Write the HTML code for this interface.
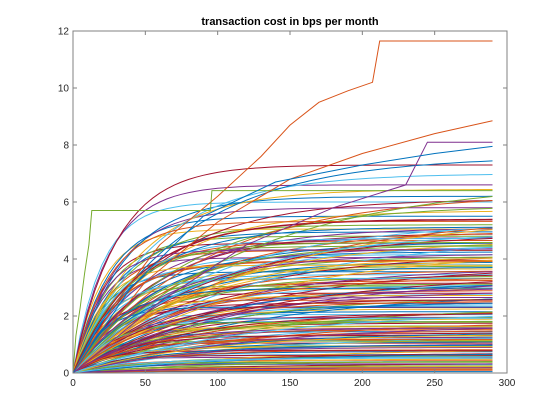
<!DOCTYPE html>
<html><head><meta charset="utf-8"><style>
body{margin:0;background:#fff;}
svg{display:block;font-family:"Liberation Sans",Arial,sans-serif;}
</style></head><body>
<svg id="chart" width="560" height="420" xmlns="http://www.w3.org/2000/svg">
<rect width="560" height="420" fill="#fff"/>
<g id="lines"></g>
<g id="axes"></g>
<text x="290" y="25" text-anchor="middle" font-size="11" font-weight="bold" fill="#000">transaction cost in bps per month</text>
</svg>
<script>
const xTicks=[0,50,100,150,200,250,300];
const yTicks=[0,2,4,6,8,10,12];
const asymptotes=[0.05,0.1,0.15,0.2,0.25,0.3,0.35,0.4,0.45,0.5,0.55,0.6,0.65,0.7,0.75,0.8,0.85,0.9,0.95,1.0,1.05,1.1,1.15,1.2,1.25,1.3,1.35,1.4,1.45,1.5,1.55,1.6,1.65,1.7,1.75,1.8,1.85,1.9,1.95,2.0,2.05,2.1,2.15,2.2,2.25,2.3,2.35,2.4,2.45,2.5,2.55,2.6,2.65,2.7,2.75,2.8,2.85,2.9,2.95,3.0,3.05,3.1,3.15,3.2,3.25,3.3,3.35,3.4,3.45,3.5,3.55,3.6,3.65,3.7,3.75,3.8,3.85,3.9,3.95,4.0,4.05,4.1,4.15,4.2,4.25,4.3,4.35,4.4,4.45,4.5,4.55,4.6,4.65,4.7,4.75,4.8,4.85,4.9,4.95,5.0,5.05,5.1,5.2,5.3,5.4,5.5,5.6,5.7,5.8,5.9,6.0,6.1,6.2,6.3,6.45,6.6,6.8,7.0,7.3,7.6,0.12,0.22,0.32,0.42,0.52,0.62,0.72,0.82,0.92,1.02,1.12,1.22,1.32,1.42,1.52,1.62,1.72,1.82,1.92,2.12,2.32,2.52,2.72,2.92,3.12,3.32,3.52,3.72,3.92,4.12,4.32,4.52,4.72,4.92,5.12,5.32,5.52,0.18,0.38,0.58,0.78,0.98,1.18,1.38,1.58,1.78,2.18,2.58,2.98,3.38,3.78,4.18,4.58,4.98,5.38];
const timeConsts=[20,60,35,90,45,25,120,55,30,75];
const specialX=[[0,30,60,100,130,150,170,190,207,212,290],[0,2,5,8,11,13,95,96,290],[0,50,100,150,200,250,290],[0,60,120,180,230,245,290],[0,40,90,140,200,250,290]];
const specialY=[[0,2.5,4.5,6.2,7.6,8.7,9.5,9.9,10.2,11.65,11.65],[0,1.3,2.3,3.5,4.5,5.7,5.7,6.4,6.4],[0,3.2,5.3,6.8,7.7,8.4,8.85],[0,2.5,4.5,5.8,6.6,8.1,8.1],[0,3,5.5,6.7,7.3,7.7,7.95]];
const colors=["#0072BD","#D95319","#EDB120","#7E2F8E","#77AC30","#4DBEEE","#A2142F"];
const L=73,R=507,T=31,B=373;
const sx=v=>L+(v-0)/(300-0)*(R-L);
const sy=v=>B-(v-0)/(12-0)*(B-T);
const NS="http://www.w3.org/2000/svg";
const g=document.getElementById('lines');
function addLine(xs,ys,color){
  const p=document.createElementNS(NS,'polyline');
  
  
  p.setAttribute('points',xs.map((x,i)=>sx(x).toFixed(1)+','+sy(ys[i]).toFixed(1)).join(' '));
  p.setAttribute('fill','none');p.setAttribute('stroke',color);p.setAttribute('stroke-width','1');
  g.appendChild(p);
}
asymptotes.forEach((a,i)=>{
  const tau=timeConsts[i%timeConsts.length];
  const xs=[],ys=[];
  for(let x=0;x<=290;x+=5){xs.push(x);ys.push(a*(1-Math.exp(-x/tau)));}
  addLine(xs,ys,colors[i%colors.length]);
});
specialX.forEach((xs,i)=>addLine(xs,specialY[i],[colors[1],colors[4],colors[1],colors[3],colors[0]][i]));
const ax=document.getElementById('axes');
function el(tag,attrs,name,txt){const e=document.createElementNS(NS,tag);for(const k in attrs)e.setAttribute(k,attrs[k]);
  
  
  if(txt!==undefined)e.textContent=txt;ax.appendChild(e);return e;}
el('rect',{x:L,y:T,width:R-L,height:B-T,fill:'none',stroke:'#808080','stroke-width':1},'plot-frame');
xTicks.forEach(t=>{const x=sx(t);
  el('line',{x1:x,y1:B,x2:x,y2:B-4,stroke:'#808080'},'x-tick');
  el('line',{x1:x,y1:T,x2:x,y2:T+4,stroke:'#808080'},'x-tick-top');
  el('text',{x:x,y:B+13,'text-anchor':'middle','font-size':10,fill:'#262626'},'x-tick-label',t);});
yTicks.forEach(t=>{const y=sy(t);
  el('line',{x1:L,y1:y,x2:L+4,y2:y,stroke:'#808080'},'y-tick');
  el('line',{x1:R,y1:y,x2:R-4,y2:y,stroke:'#808080'},'y-tick-right');
  el('text',{x:L-4,y:y+3.5,'text-anchor':'end','font-size':10,fill:'#262626'},'y-tick-label',t);});
</script>
</body></html>
